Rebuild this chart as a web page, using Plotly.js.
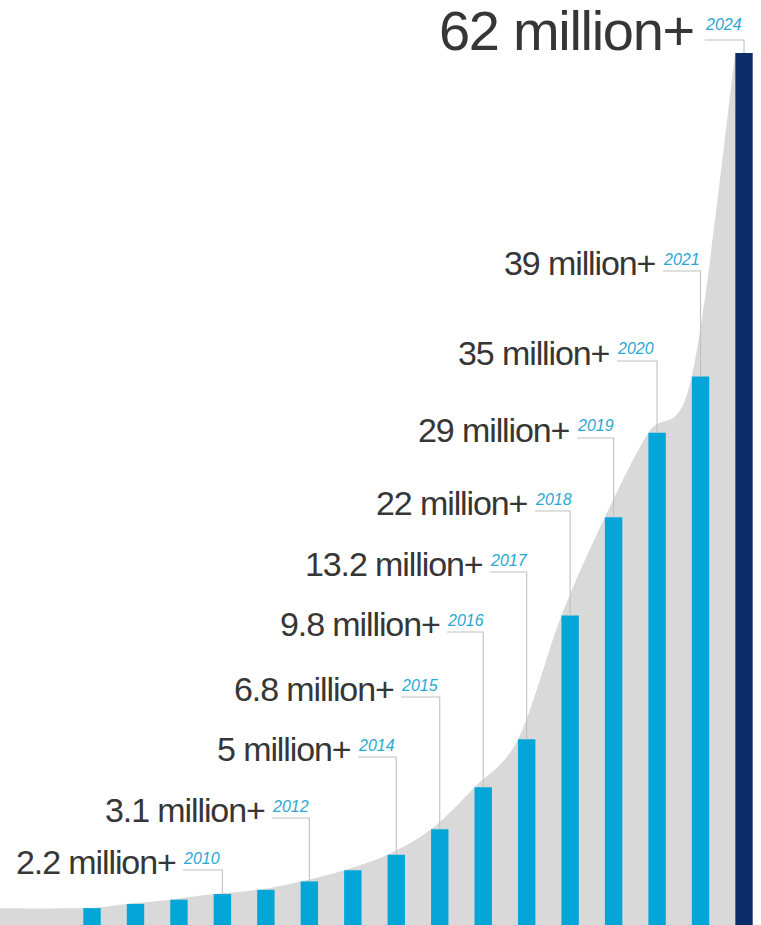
<!DOCTYPE html>
<html>
<head>
<meta charset="utf-8">
<script src="https://cdn.plot.ly/plotly-3.0.1.min.js"></script>
<style>
  html, body { margin: 0; padding: 0; background: #ffffff; }
  #chart { width: 761px; height: 925px; }
</style>
</head>
<body>
<div id="chart"></div>
<script>
// ---- data ----
const years = ["2007", "2008", "2009", "2010", "2011", "2012", "2013", "2014",
               "2015", "2016", "2017", "2018", "2019", "2020", "2021", "2024"];
const values = [1.2, 1.5, 1.8, 2.2, 2.5, 3.1, 3.9, 5, 6.8, 9.8, 13.2, 22, 29, 35, 39, 62];
const labelYears = ["2010", "2012", "2014", "2015", "2016", "2017", "2018", "2019", "2020", "2021", "2024"];
const labelTexts = ["2.2 million+", "3.1 million+", "5 million+", "6.8 million+", "9.8 million+",
                    "13.2 million+", "22 million+", "29 million+", "35 million+", "39 million+", "62 million+"];

// ---- layout constants (pixels) ----
const W = 761, H = 925;
const labelLineY = [870, 818, 757, 697, 632, 572, 511, 438, 361, 271, 40];
const labelYearX = [183, 272, 358, 401, 447, 490, 535, 577, 617, 663, 705];
const BAR_W = 0.4;
const X_MIN = -2.117, X_MAX = 15.391;
const Y_MAX = 65.77;

const pxToX = px => X_MIN + px * (X_MAX - X_MIN) / W;
const pxToY = py => (H - py) * Y_MAX / H;

// ---- grey backdrop path (Catmull-Rom through bar top-left corners) ----
const pts = [[X_MIN - 0.2, values[0]]].concat(values.map((v, i) => [i - BAR_W / 2, v]));
let d = `M ${X_MIN - 0.2},0 L ${pts[0][0]},${pts[0][1]}`;
for (let k = 0; k < pts.length - 1; k++) {
  const p0 = pts[Math.max(k - 1, 0)], p1 = pts[k], p2 = pts[k + 1], p3 = pts[Math.min(k + 2, pts.length - 1)];
  const c1 = [p1[0] + (p2[0] - p0[0]) / 6, p1[1] + (p2[1] - p0[1]) / 6];
  const c2 = [p2[0] - (p3[0] - p1[0]) / 6, p2[1] - (p3[1] - p1[1]) / 6];
  d += ` C ${c1[0]},${c1[1]} ${c2[0]},${c2[1]} ${p2[0]},${p2[1]}`;
}
d += ` L ${pts[pts.length - 1][0]},0 Z`;

const shapes = [{
  type: "path", xref: "x", yref: "y", path: d, layer: "below",
  fillcolor: "#d9d9d9", line: { width: 0 }
}];

const annotations = [];
labelYears.forEach((yr, j) => {
  const idx = years.indexOf(yr);
  const big = j === labelYears.length - 1;
  const ly = labelLineY[j], lx = labelYearX[j];
  shapes.push({
    type: "path", xref: "x", yref: "y", layer: "above",
    path: `M ${pxToX(lx)},${pxToY(ly)} L ${idx},${pxToY(ly)} L ${idx},${values[idx]}`,
    line: { color: "#c0c0c0", width: 1.1 }
  });
  const spacing = big ? -1.3 : -1.1;
  annotations.push({
    xref: "paper", yref: "paper", x: (lx - (big ? 10 : 6)) / W, y: 1 - (ly - (big ? 9 : 8)) / H,
    xanchor: "right", yanchor: "middle", showarrow: false, borderpad: 0,
    text: `<span style="letter-spacing:${spacing}px">${labelTexts[j]}</span>`,
    font: { family: "Liberation Sans, Arial, sans-serif", size: big ? 56 : 34, color: "#363636" }
  });
  annotations.push({
    xref: "paper", yref: "paper", x: (lx - 1) / W, y: 1 - (ly - (big ? 15 : 12)) / H,
    xanchor: "left", yanchor: "middle", showarrow: false, borderpad: 0,
    text: yr,
    font: { family: "Liberation Sans, Arial, sans-serif", size: 16, style: "italic", color: "#2ba7d3" }
  });
});

const barColors = values.map((v, i) => i === values.length - 1 ? "#0b2c69" : "#03a6d7");

const data = [{
  type: "bar", x: years, y: values, width: BAR_W,
  marker: { color: barColors, line: { width: 0 } },
  hoverinfo: "skip"
}];

const layout = {
  width: W, height: H,
  margin: { l: 0, r: 0, t: 0, b: 0, pad: 0 },
  paper_bgcolor: "#ffffff", plot_bgcolor: "#ffffff",
  showlegend: false,
  xaxis: { type: "category", range: [X_MIN, X_MAX], visible: false, fixedrange: true },
  yaxis: { range: [0, Y_MAX], visible: false, fixedrange: true },
  shapes: shapes,
  annotations: annotations
};

Plotly.newPlot("chart", data, layout, { staticPlot: true, displayModeBar: false });
</script>
</body>
</html>
